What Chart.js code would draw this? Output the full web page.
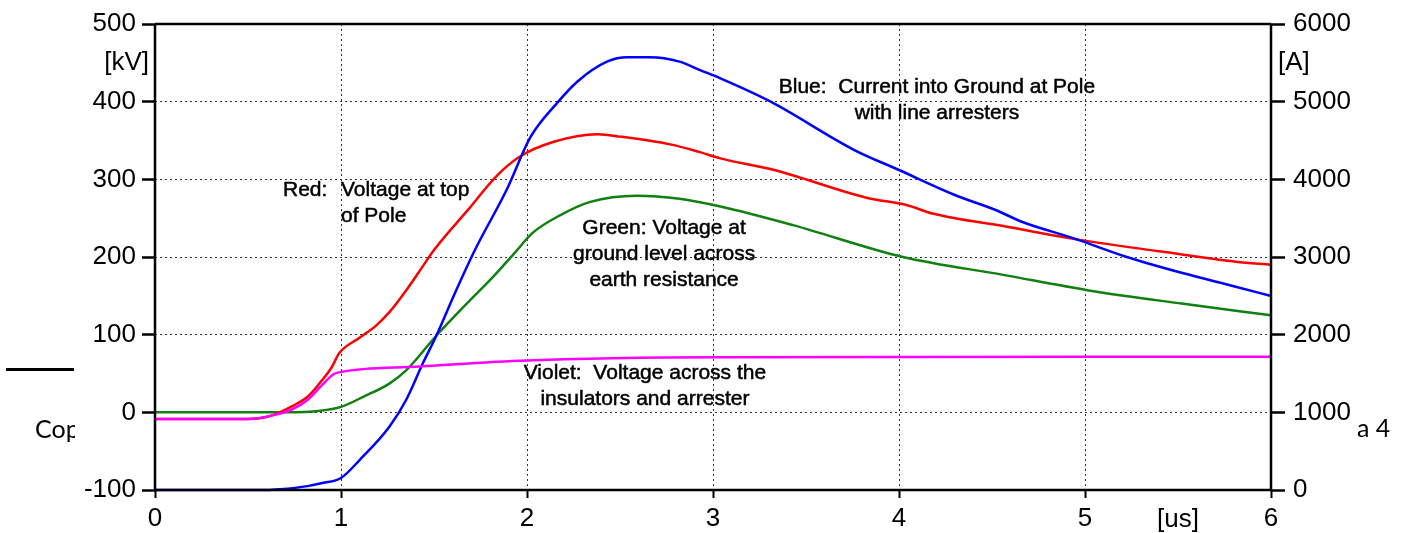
<!DOCTYPE html>
<html><head><meta charset="utf-8">
<script src="https://cdn.jsdelivr.net/npm/chart.js@4/dist/chart.umd.min.js"></script>
<style>html,body{margin:0;padding:0;background:#fff;overflow:hidden}#wrap{width:1406px;height:533px;position:relative}canvas{display:block}</style>
</head><body><div id="wrap"><canvas id="c" width="1406" height="533"></canvas></div>
<script>
// ---- data (time in us) ----
const redT   = [0, 0.5, 0.6, 0.67, 0.73, 0.82, 0.89, 0.95, 0.99, 1.10, 1.19, 1.26, 1.35, 1.42, 1.50, 1.68, 1.84, 1.96, 2.14, 2.38, 2.50, 2.77, 2.93, 3.04, 3.33, 3.83, 4.04, 4.18, 4.58, 4.92, 5.41, 5.81, 6.0];
const redKV  = [-8.6, -8.6, -6, 0, 7, 20, 39, 58, 76, 96, 112, 129, 157, 181, 209, 260, 305, 329, 348, 358, 355, 345, 335, 327, 312, 276, 267, 256, 239, 224, 207, 194, 190];

const blueT  = [0, 0.6, 0.67, 0.82, 0.9, 1.0, 1.10, 1.26, 1.35, 1.44, 1.51, 1.62, 1.72, 1.89, 2.02, 2.16, 2.27, 2.43, 2.54, 2.66, 2.82, 2.93, 3.04, 3.31, 3.76, 4.0, 4.30, 4.52, 4.66, 4.94, 5.22, 5.53, 5.81, 6.0];
const blueA  = [0, 0, 9, 50, 90, 155, 386, 815, 1159, 1631, 1974, 2575, 3090, 3863, 4549, 4978, 5257, 5515, 5571, 5571, 5515, 5407, 5300, 5000, 4377, 4120, 3798, 3605, 3454, 3240, 3004, 2790, 2618, 2498];

const greenT  = [0, 0.7, 0.89, 1.0, 1.12, 1.26, 1.35, 1.51, 1.66, 1.82, 1.94, 2.03, 2.18, 2.34, 2.59, 2.82, 3.04, 3.43, 4.02, 4.56, 5.02, 5.52, 6.0];
const greenKV = [0, 0, 2, 7, 20, 37, 54, 98, 136, 175, 207, 231, 254, 271, 279, 275, 265, 241, 200, 177, 157, 140, 125];

const violetT  = [0, 0.5, 0.64, 0.73, 0.82, 0.89, 0.96, 1.0, 1.42, 1.96, 3.04, 6.0];
const violetKV = [-8.6, -8.6, -3.5, 3, 16, 33, 49, 52, 59, 66.5, 71, 71.5];

const xMin = 0, xMax = 6, xStep = 1;
const kvMin = -100, kvMax = 500, kvStep = 100;
const aMin = 0, aMax = 6000, aStep = 1000;

// annotation texts, anchored in data units (t [us], kV)
const notes = [
  {text: 'Red:', t: 0.688, kv: 278.1, align: 'left'},
  {text: 'Voltage at top', t: 1.0, kv: 278.1, align: 'left'},
  {text: 'of Pole', t: 1.0, kv: 244.6, align: 'left'},
  {text: 'Green: Voltage at', t: 2.737, kv: 229.1, align: 'center'},
  {text: 'ground level across', t: 2.737, kv: 196.1, align: 'center'},
  {text: 'earth resistance', t: 2.737, kv: 162.6, align: 'center'},
  {text: 'Blue:  Current into Ground at Pole', t: 4.204, kv: 411.1, align: 'center'},
  {text: 'with line arresters', t: 4.204, kv: 377.6, align: 'center'},
  {text: 'Violet:  Voltage across the', t: 2.634, kv: 42.9, align: 'center'},
  {text: 'insulators and arrester', t: 2.634, kv: 9.4, align: 'center'}
];

const pts = (xs, ys) => xs.map((x, i) => ({x: x, y: ys[i]}));
const FONT = 'Liberation Sans, Arial, sans-serif';

const decor = {
  id: 'decor',
  beforeDraw(chart) {
    const c = chart.ctx;
    c.save();
    c.fillStyle = '#fff';
    c.fillRect(0, 0, chart.width, chart.height);
    // background slide remnants
    c.strokeStyle = '#000'; c.lineWidth = 3;
    c.beginPath(); c.moveTo(6, 369.5); c.lineTo(74, 369.5); c.stroke();
    c.save();
    c.beginPath(); c.rect(0, 0, 75, chart.height); c.clip();
    c.fillStyle = '#000'; c.font = '25px Lato, "Open Sans", sans-serif'; c.textBaseline = 'alphabetic'; c.textAlign = 'left';
    c.fillText('Copyright', 35, 438);
    c.restore();
    c.fillStyle = '#000'; c.font = '25px Lato, "Open Sans", sans-serif'; c.textAlign = 'left';
    c.fillText('a 4', 1357, 437);
    c.restore();
  },
  afterDraw(chart) {
    const c = chart.ctx, a = chart.chartArea;
    const xs = chart.scales.x, ys = chart.scales.y;
    c.save();
    c.strokeStyle = '#000'; c.lineWidth = 2.5;
    c.beginPath();
    c.moveTo(a.left, a.top); c.lineTo(a.right, a.top);
    c.moveTo(a.left, a.top); c.lineTo(a.left, a.bottom);
    c.moveTo(a.right, a.top); c.lineTo(a.right, a.bottom);
    c.moveTo(a.left, a.bottom); c.lineTo(a.right, a.bottom);
    c.stroke();
    // axis unit labels
    c.fillStyle = '#000';
    c.font = '26px ' + FONT;
    c.textBaseline = 'middle';
    c.textAlign = 'right'; c.fillText('[kV]', a.left - 6, 63);
    c.textAlign = 'left';  c.fillText('[A]', a.right + 7, 63);
    c.textAlign = 'center'; c.fillText('[us]', 1178, 520);
    // curve annotations
    c.font = '21px ' + FONT;
    c.textBaseline = 'alphabetic';
    c.strokeStyle = '#000'; c.lineWidth = 0.5;
    notes.forEach(n => {
      c.textAlign = n.align;
      const px = xs.getPixelForValue(n.t), py = ys.getPixelForValue(n.kv);
      c.fillText(n.text, px, py);
      c.strokeText(n.text, px, py);
    });
    c.restore();
  }
};

const zeroPad = s => { s.paddingTop = 0; s.paddingBottom = 0; s.paddingLeft = 0; s.paddingRight = 0; };
const edgeClear = (lo, hi, col) => ctx => (ctx.tick && (ctx.tick.value === lo || ctx.tick.value === hi)) ? 'rgba(0,0,0,0)' : col;
const plain = v => String(v);

new Chart(document.getElementById('c'), {
  type: 'line',
  data: {
    datasets: [
      {label: 'Violet', data: pts(violetT, violetKV), borderColor: '#ff00ff', yAxisID: 'y'},
      {label: 'Blue', data: pts(blueT, blueA), borderColor: '#0000ff', yAxisID: 'y1'},
      {label: 'Red', data: pts(redT, redKV), borderColor: '#ff0000', yAxisID: 'y'},
      {label: 'Green', data: pts(greenT, greenKV), borderColor: '#108010', yAxisID: 'y'}
    ]
  },
  options: {
    responsive: false,
    animation: false,
    devicePixelRatio: 1,
    layout: {padding: {top: 24, left: 0, right: 0, bottom: 0}},
    elements: {
      line: {borderWidth: 2.5, cubicInterpolationMode: 'monotone', fill: false},
      point: {radius: 0, hoverRadius: 0}
    },
    datasets: {line: {clip: 4}},
    plugins: {legend: {display: false}, tooltip: {enabled: false}},
    scales: {
      x: {
        type: 'linear', min: xMin, max: xMax,
        afterFit: s => { s.height = 43; zeroPad(s); },
        ticks: {stepSize: xStep, color: '#000', font: {family: FONT, size: 26}, padding: 5, maxRotation: 0, callback: plain},
        grid: {color: edgeClear(xMin, xMax, '#333'), lineWidth: 1, tickLength: 8, tickColor: '#000', tickWidth: 2, tickBorderDash: []},
        border: {display: false, dash: [2, 3]}
      },
      y: {
        type: 'linear', position: 'left', min: kvMin, max: kvMax,
        afterFit: s => { s.width = 155; zeroPad(s); },
        ticks: {stepSize: kvStep, color: '#000', font: {family: FONT, size: 26}, padding: 6, callback: plain},
        grid: {color: edgeClear(kvMin, kvMax, '#333'), lineWidth: 1, tickLength: 13, tickColor: '#000', tickWidth: 2.5, tickBorderDash: []},
        border: {display: false, dash: [2, 3]}
      },
      y1: {
        type: 'linear', position: 'right', min: aMin, max: aMax,
        afterFit: s => { s.width = 135; zeroPad(s); },
        ticks: {stepSize: aStep, color: '#000', font: {family: FONT, size: 26}, padding: 8, callback: plain},
        grid: {drawOnChartArea: false, tickLength: 14, tickColor: '#000', tickWidth: 2.5, tickBorderDash: []},
        border: {display: false}
      }
    }
  },
  plugins: [decor]
});
</script>
</body></html>
